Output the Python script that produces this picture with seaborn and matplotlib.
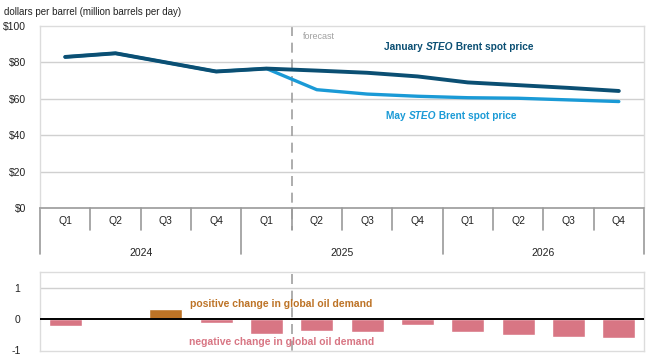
import matplotlib
matplotlib.use("Agg")
import matplotlib.pyplot as plt
import matplotlib.transforms as mtransforms
import seaborn as sns
import pandas as pd
import numpy as np

# --- data ---
quarters = ["Q1", "Q2", "Q3", "Q4"] * 3
years = ["2024", "2025", "2026"]
jan_price = [83.0, 85.0, 80.0, 75.0, 76.6, 75.5, 74.3, 72.3, 69.0, 67.5, 66.0, 64.3]
may_price = [83.0, 85.0, 80.0, 75.0, 76.6, 65.0, 62.6, 61.4, 60.6, 60.3, 59.4, 58.5]
demand_change = [-0.24, 0.0, 0.33, -0.15, -0.48, -0.40, -0.43, -0.20, -0.44, -0.52, -0.59, -0.63]
price_ticks = [0, 20, 40, 60, 80, 100]
price_labels = ["$0", "$20", "$40", "$60", "$80", "$100"]
demand_ticks = [-1, 0, 1]

JAN_C = "#0b4f73"
MAY_C = "#1a9ad6"
POS_C = "#bd7326"
NEG_C = "#d87684"
GRID_C = "#d0d0d0"
FRAME_C = "#dcdcdc"
SEP_C = "#9a9a9a"

sns.set_theme(style="white")
plt.rcParams["font.family"] = ["Liberation Sans", "DejaVu Sans"]

idx = np.arange(len(jan_price))
df = pd.DataFrame({"i": idx, "jan": jan_price, "may": may_price,
                   "demand": demand_change})
df["sign"] = np.where(df["demand"] >= 0, "pos", "neg")

fig = plt.figure(figsize=(6.5, 3.59), dpi=100)
ax = fig.add_axes([40 / 650, 1 - 208 / 359, 604 / 650, 182 / 359])
ax2 = fig.add_axes([40 / 650, 1 - 351 / 359, 604 / 650, 79 / 359])

# --- top panel: prices ---
sns.lineplot(data=df, x="i", y="may", ax=ax, color=MAY_C, linewidth=2.4)
sns.lineplot(data=df, x="i", y="jan", ax=ax, color=JAN_C, linewidth=2.8)
ax.set_xlim(-0.5, 11.5)
ax.set_ylim(0, 100)
ax.set_yticks(price_ticks)
ax.set_yticklabels(price_labels)
ax.set_xticks([])
ax.set_xlabel("")
ax.set_ylabel("")
ax.tick_params(axis="y", labelsize=7.5, colors="#222222", length=0, pad=10)
for v in price_ticks[1:-1]:
    ax.axhline(v, color=GRID_C, linewidth=1.0, zorder=0)
for s in ["left", "top", "right"]:
    ax.spines[s].set_color(FRAME_C)
    ax.spines[s].set_linewidth(1.0)
ax.spines["bottom"].set_color(SEP_C)
ax.spines["bottom"].set_linewidth(1.2)

# category axis (quarters and years)
trans = mtransforms.blended_transform_factory(ax.transData, ax.transAxes)
for b in np.arange(-0.5, 12, 1.0):
    long = (b + 0.5) % 4 == 0
    ax.plot([b, b], [0, -0.253 if long else -0.121], transform=trans,
            color=SEP_C, linewidth=1.2, clip_on=False)
for i, q in enumerate(quarters):
    ax.text(i, -0.07, q, transform=trans, ha="center", va="center",
            fontsize=7.5, color="#222222")
for k, y in enumerate(years):
    ax.text(4 * k + 1.5, -0.245, y, transform=trans, ha="center", va="center",
            fontsize=7.5, color="#222222")

# forecast divider
ax.plot([4.5, 4.5], [1, -0.121], transform=trans, color="#a0a0a0",
        linewidth=1.2, linestyle=(0, (6, 4)), clip_on=False, zorder=1)
ax.text(4.72, 0.945, "forecast", transform=trans, ha="left", va="center",
        fontsize=6.5, color="#a0a0a0")


def rich(x, y, parts, color, size):
    # chain text pieces so that "STEO" can be italic inside a bold label
    prev = ax.annotate(parts[0][0], xy=(x, y), xycoords="figure fraction",
                       fontsize=size, color=color, fontweight="bold",
                       fontstyle=parts[0][1], ha="left", va="center",
                       annotation_clip=False)
    for txt, style in parts[1:]:
        prev = ax.annotate(txt, xy=(1, 0.5), xycoords=prev, fontsize=size,
                           color=color, fontweight="bold", fontstyle=style,
                           ha="left", va="center", annotation_clip=False)


rich(384 / 650, 1 - 47 / 359,
     [("January ", "normal"), ("STEO", "italic"), (" Brent spot price", "normal")],
     JAN_C, 7.3)
rich(386 / 650, 1 - 116 / 359,
     [("May ", "normal"), ("STEO", "italic"), (" Brent spot price", "normal")],
     MAY_C, 7.3)

fig.text(4 / 650, 1 - 12 / 359, "dollars per barrel (million barrels per day)",
         fontsize=7.0, color="#222222", ha="left", va="center")

# --- bottom panel: demand change ---
sns.barplot(data=df, x="i", y="demand", hue="sign",
            palette={"pos": POS_C, "neg": NEG_C}, dodge=False, width=0.66,
            legend=False, ax=ax2, saturation=1, zorder=2)
ax2.set_xlim(-0.5, 11.5)
ax2.set_ylim(-1.045, 1.52)
ax2.set_yticks(demand_ticks)
ax2.set_yticklabels(["-1", "0", "1"])
ax2.set_xticks([])
ax2.set_xlabel("")
ax2.set_ylabel("")
ax2.tick_params(axis="y", labelsize=7.5, colors="#222222", length=0, pad=14)
ax2.axhline(1, color=GRID_C, linewidth=1.0, zorder=0)
ax2.axhline(0, color="black", linewidth=1.4, zorder=3)
for s in ax2.spines.values():
    s.set_color(FRAME_C)
    s.set_linewidth(1.0)
ax2.plot([4.5, 4.5], [1.45, -1.045], color="#a0a0a0", linewidth=1.2,
         linestyle=(0, (6, 4)), zorder=1)
ax2.text(4.3, 0.47, "positive change in global oil demand", ha="center",
         va="center", fontsize=7.5, fontweight="bold", color=POS_C, zorder=4)
ax2.text(4.3, -0.75, "negative change in global oil demand", ha="center",
         va="center", fontsize=7.5, fontweight="bold", color=NEG_C, zorder=4)

fig.savefig("out.png", dpi=100)
